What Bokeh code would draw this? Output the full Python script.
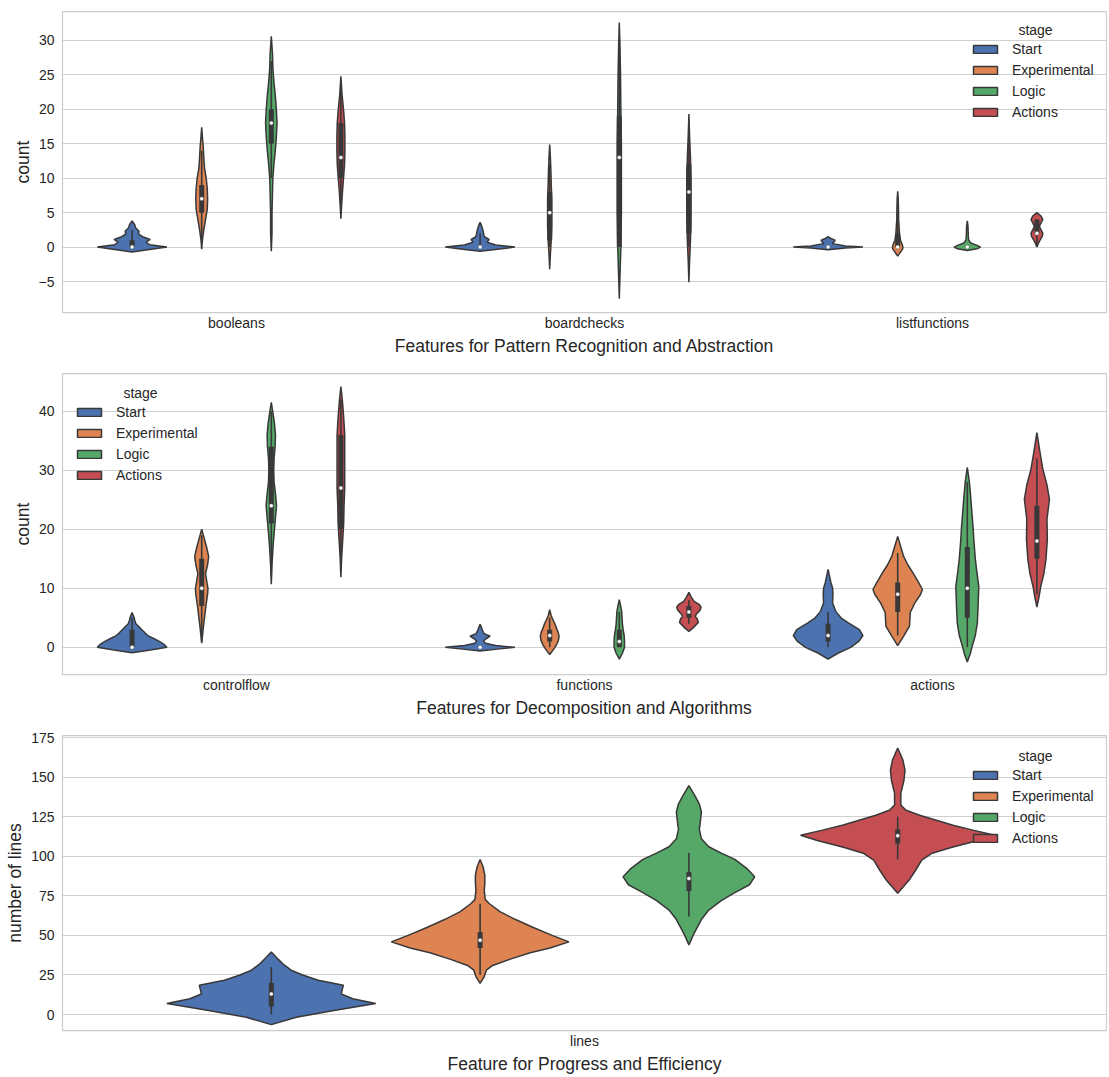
from bokeh.plotting import figure
from bokeh.models import Range1d, FixedTicker, Legend, LegendItem, Label
from bokeh.layouts import column
from bokeh.embed import file_html
from bokeh.resources import INLINE

# ---------------- data ----------------
stages = ["Start", "Experimental", "Logic", "Actions"]
stage_colors = ["#4C72B0", "#DD8452", "#55A868", "#C44E52"]

# Each violin: y levels, relative half-width (1 = widest violin), box stats (whisker lo, q1, median, q3, whisker hi)
# --- Panel 1: Pattern Recognition and Abstraction ---
pattern_features = ["booleans", "boardchecks", "listfunctions"]

booleans_levels = {
    "Start": [-0.7, -0.35, 0, 0.35, 0.7, 1.1, 1.5, 1.9, 2.3, 2.8, 3.3, 3.8],
    "Experimental": [-0.3, 1, 2.5, 4, 5.5, 7, 8.5, 10, 11.5, 13, 14.5, 16, 17.4],
    "Logic": [-0.6, 2, 5, 8, 10, 12, 14, 16, 18, 20, 22, 24, 26, 28, 30.6],
    "Actions": [4.1, 6, 8, 10, 12, 14, 16, 18, 20, 22, 24.8],
}
booleans_widths = {
    "Start": [0, 0.5, 1.0, 0.5, 0.4, 0.52, 0.3, 0.18, 0.2, 0.1, 0.07, 0],
    "Experimental": [0, 0.02, 0.06, 0.11, 0.16, 0.17, 0.16, 0.13, 0.08, 0.06, 0.045, 0.02, 0],
    "Logic": [0, 0.02, 0.02, 0.035, 0.045, 0.075, 0.115, 0.145, 0.165, 0.145, 0.115, 0.075, 0.045, 0.035, 0],
    "Actions": [0, 0.02, 0.045, 0.075, 0.105, 0.115, 0.115, 0.105, 0.075, 0.035, 0],
}
booleans_box = {
    "Start": [0, 0, 0, 1, 2.5],
    "Experimental": [1, 5, 7, 9, 14],
    "Logic": [10, 15, 18, 20, 27],
    "Actions": [5, 10, 13, 18, 24],
}

boardchecks_levels = {
    "Start": [-0.6, -0.3, 0, 0.3, 0.7, 1.1, 1.5, 2.0, 2.5, 3.0, 3.6],
    "Experimental": [-3.2, -1, 1, 3, 5, 7, 9, 11, 13, 14.9],
    "Logic": [-7.5, -4, 0, 5, 10, 15, 20, 25, 29, 32.6],
    "Actions": [-5.1, -2, 1, 4, 7, 10, 13, 16, 19.3],
}
boardchecks_widths = {
    "Start": [0, 0.5, 1.0, 0.45, 0.2, 0.26, 0.12, 0.1, 0.08, 0.05, 0],
    "Experimental": [0, 0.02, 0.045, 0.06, 0.06, 0.06, 0.045, 0.035, 0.02, 0],
    "Logic": [0, 0.02, 0.045, 0.06, 0.06, 0.06, 0.045, 0.035, 0.02, 0],
    "Actions": [0, 0.02, 0.045, 0.06, 0.06, 0.06, 0.045, 0.02, 0],
}
boardchecks_box = {
    "Start": [0, 0, 0, 0, 2],
    "Experimental": [0, 1, 5, 8, 12],
    "Logic": [0, 0, 13, 19, 30],
    "Actions": [0, 2, 8, 12, 16],
}

listfunctions_levels = {
    "Start": [-0.4, -0.15, 0, 0.15, 0.5, 0.8, 1.0, 1.2, 1.5],
    "Experimental": [-1.3, -0.8, -0.3, 0, 0.5, 1, 2, 3, 4, 5, 6, 7, 8.1],
    "Logic": [-0.5, -0.25, 0, 0.25, 0.6, 1.0, 1.5, 2.2, 3.0, 3.8],
    "Actions": [0, 0.5, 1.0, 1.5, 2.0, 2.5, 3.0, 3.5, 4.0, 4.5, 5.0],
}
listfunctions_widths = {
    "Start": [0, 0.5, 1.0, 0.5, 0.12, 0.18, 0.2, 0.1, 0],
    "Experimental": [0, 0.07, 0.14, 0.15, 0.12, 0.08, 0.05, 0.04, 0.025, 0.025, 0.02, 0.015, 0],
    "Logic": [0, 0.28, 0.38, 0.28, 0.1, 0.04, 0.03, 0.025, 0.02, 0],
    "Actions": [0, 0.04, 0.09, 0.15, 0.17, 0.12, 0.07, 0.12, 0.17, 0.12, 0],
}
listfunctions_box = {
    "Start": [0, 0, 0, 0, 0],
    "Experimental": [0, 0, 0, 2, 5],
    "Logic": [0, 0, 0, 0, 0],
    "Actions": [0, 2, 2, 4, 4],
}

# --- Panel 2: Decomposition and Algorithms ---
decomp_features = ["controlflow", "functions", "actions"]

controlflow_levels = {
    "Start": [-0.9, -0.4, 0, 0.5, 1, 1.5, 2, 2.5, 3, 3.5, 4, 4.5, 5, 5.9],
    "Experimental": [0.7, 3, 5, 7, 9, 10, 11, 12.5, 14, 15.4, 17, 18.5, 20],
    "Logic": [10.7, 14, 17, 20, 22, 24, 26, 28, 30, 32, 34, 36, 38, 40, 41.5],
    "Actions": [11.9, 15, 18, 21, 24, 27, 30, 33, 36, 39, 42, 44.2],
}
controlflow_widths = {
    "Start": [0, 0.57, 1.0, 0.92, 0.78, 0.62, 0.45, 0.36, 0.28, 0.2, 0.11, 0.08, 0.06, 0],
    "Experimental": [0, 0.04, 0.08, 0.12, 0.17, 0.18, 0.15, 0.11, 0.17, 0.2, 0.14, 0.07, 0],
    "Logic": [0, 0.02, 0.05, 0.09, 0.12, 0.15, 0.12, 0.08, 0.07, 0.08, 0.11, 0.12, 0.09, 0.04, 0],
    "Actions": [0, 0.02, 0.05, 0.08, 0.09, 0.11, 0.11, 0.11, 0.11, 0.08, 0.04, 0],
}
controlflow_box = {
    "Start": [0, 0, 0, 3, 5],
    "Experimental": [1, 7, 10, 15, 19],
    "Logic": [12, 21, 24, 34, 40],
    "Actions": [13, 20, 27, 36, 42],
}

functions_levels = {
    "Start": [-0.6, -0.3, 0, 0.3, 0.7, 1.1, 1.5, 1.9, 2.3, 2.7, 3.2, 3.9],
    "Experimental": [-1.2, -0.6, 0, 0.6, 1.2, 1.9, 2.6, 3.3, 4.0, 4.7, 5.4, 6.4],
    "Logic": [-2.0, -1.0, 0, 1, 2, 3, 4, 5, 6, 7, 8.1],
    "Actions": [2.7, 3.3, 4.2, 4.8, 5.3, 5.8, 6.3, 6.8, 7.3, 7.8, 8.5, 9.3],
}
functions_widths = {
    "Start": [0, 0.5, 1.0, 0.45, 0.15, 0.1, 0.18, 0.29, 0.12, 0.08, 0.05, 0],
    "Experimental": [0, 0.08, 0.15, 0.21, 0.25, 0.27, 0.24, 0.19, 0.15, 0.09, 0.04, 0],
    "Logic": [0, 0.09, 0.15, 0.15, 0.14, 0.11, 0.09, 0.08, 0.07, 0.04, 0],
    "Actions": [0, 0.12, 0.27, 0.24, 0.18, 0.24, 0.32, 0.35, 0.29, 0.15, 0.07, 0],
}
functions_box = {
    "Start": [0, 0, 0, 0, 0],
    "Experimental": [0, 1, 2, 3, 5],
    "Logic": [0, 0, 1, 3, 6],
    "Actions": [4, 5, 6, 7, 8],
}

actions_levels = {
    "Start": [-2.0, -1.0, 0, 1.0, 2.0, 3.0, 4.2, 5.0, 6.1, 7.5, 9.0, 10.0, 11.0, 13.2],
    "Experimental": [0.3, 1.9, 3.6, 5.9, 7.5, 9.0, 9.8, 11, 12.7, 14, 15.4, 17, 18.8],
    "Logic": [-2.5, -1, 0.2, 2, 4.2, 7, 10.3, 13, 15, 18, 20, 23, 26, 28, 30.5],
    "Actions": [6.8, 8.5, 10.3, 12.5, 14.9, 18.3, 21.7, 25.1, 27.5, 30.2, 33, 36.4],
}
actions_widths = {
    "Start": [0, 0.28, 0.65, 0.88, 1.0, 0.9, 0.57, 0.37, 0.22, 0.13, 0.14, 0.13, 0.08, 0],
    "Experimental": [0, 0.17, 0.34, 0.36, 0.49, 0.66, 0.71, 0.6, 0.43, 0.29, 0.17, 0.09, 0],
    "Logic": [0, 0.09, 0.14, 0.23, 0.29, 0.31, 0.33, 0.27, 0.23, 0.19, 0.17, 0.13, 0.09, 0.06, 0],
    "Actions": [0, 0.06, 0.11, 0.2, 0.26, 0.3, 0.29, 0.36, 0.29, 0.17, 0.09, 0],
}
actions_box = {
    "Start": [0, 1, 2, 4, 6],
    "Experimental": [2, 6, 9, 11, 16],
    "Logic": [0, 5, 10, 17, 28],
    "Actions": [9, 15, 18, 24, 32],
}

# --- Panel 3: Progress and Efficiency ---
progress_features = ["lines"]

lines_levels = {
    "Start": [-6.4, -1.7, 2.5, 7, 10, 13, 16, 18.5, 21.7, 25, 28, 32, 36, 39.5],
    "Experimental": [19.7, 24, 28, 31, 35, 39, 42, 45.9, 50, 55, 60, 65, 70, 72.6, 78, 83, 88, 93, 98],
    "Logic": [44, 50, 55, 60, 66, 72, 77, 82, 87, 92, 98, 102, 106, 111, 117, 122, 128, 133, 138, 144.6],
    "Actions": [76.6, 85, 91, 97.5, 101.9, 105.7, 110, 113.3, 116.5, 119.6, 122.8, 125.9, 129.1,
                132.3, 139.7, 148, 154.4, 160.8, 168.4],
}
lines_widths = {
    "Start": [0, 0.24, 0.6, 1.0, 0.78, 0.67, 0.68, 0.69, 0.45, 0.3, 0.19, 0.11, 0.05, 0],
    "Experimental": [0, 0.04, 0.06, 0.12, 0.29, 0.48, 0.67, 0.85, 0.69, 0.51, 0.34, 0.19, 0.09, 0.05,
                     0.04, 0.045, 0.045, 0.03, 0],
    "Logic": [0, 0.04, 0.08, 0.12, 0.19, 0.31, 0.44, 0.58, 0.63, 0.56, 0.44, 0.31, 0.19, 0.12, 0.1,
              0.11, 0.12, 0.1, 0.06, 0],
    "Actions": [0, 0.11, 0.17, 0.23, 0.33, 0.52, 0.77, 0.93, 0.72, 0.53, 0.37, 0.21, 0.08, 0.03, 0.03,
                0.06, 0.07, 0.05, 0],
}
lines_box = {
    "Start": [0, 5, 13, 20, 30],
    "Experimental": [25, 42, 47, 52, 70],
    "Logic": [62, 78, 86, 90, 102],
    "Actions": [98, 108, 113, 117, 125],
}

panel1_yticks = [-5, 0, 5, 10, 15, 20, 25, 30]
panel2_yticks = [0, 10, 20, 30, 40]
panel3_yticks = [0, 25, 50, 75, 100, 125, 150, 175]

# ---------------- styling ----------------
FONT = "Liberation Sans"
TEXT = "#262626"
GRAY = "#383838"
GRID = "#d0d0d0"
HUE_OFFSETS = [-0.3, -0.1, 0.1, 0.3]
MAX_HALF = 0.1
FIG_W = 1107


def make_fig(features, yr, yticks, xlabel, ylabel, top, frame_h, bottom):
    p = figure(width=FIG_W, height=top + frame_h + bottom, output_backend="svg", toolbar_location=None,
               title=None, x_range=Range1d(-0.5, len(features) - 0.5), y_range=Range1d(*yr),
               min_border_left=62, min_border_right=1, min_border_top=top, min_border_bottom=bottom)
    p.background_fill_color = "white"
    p.border_fill_color = "white"
    p.outline_line_color = "#cccccc"
    p.outline_line_width = 1.25
    p.xgrid.visible = False
    p.ygrid.grid_line_color = GRID
    p.ygrid.grid_line_width = 1.2
    p.ygrid.ticker = FixedTicker(ticks=yticks)
    p.yaxis.ticker = FixedTicker(ticks=yticks)
    p.yaxis.major_label_overrides = {t: ("\u2212" + str(-t) if t < 0 else str(t)) for t in yticks}
    p.xaxis.ticker = FixedTicker(ticks=list(range(len(features))))
    p.xaxis.major_label_overrides = {i: f for i, f in enumerate(features)}
    for ax in (p.xaxis[0], p.yaxis[0]):
        ax.axis_line_color = None
        ax.major_tick_line_color = None
        ax.minor_tick_line_color = None
        ax.major_tick_out = 0
        ax.major_tick_in = 0
        ax.minor_tick_out = 0
        ax.minor_tick_in = 0
        ax.major_label_text_font = FONT
        ax.major_label_text_font_size = "14px"
        ax.major_label_text_color = TEXT
        ax.axis_label_text_font = FONT
        ax.axis_label_text_font_size = "17.5px"
        ax.axis_label_text_font_style = "normal"
        ax.axis_label_text_color = TEXT
    p.xaxis.major_label_standoff = 2
    p.xaxis.axis_label_standoff = 2
    p.yaxis.major_label_standoff = 8
    p.yaxis.axis_label_standoff = 3
    p.xaxis.axis_label = xlabel
    p.yaxis.axis_label = ylabel
    return p


def draw_violin(p, center, ys, ws, color, box):
    half = [w * MAX_HALF for w in ws]
    xs = [center + h for h in half] + [center - h for h in half[::-1]]
    yy = list(ys) + list(ys[::-1])
    r = p.patch(xs, yy, fill_color=color, fill_alpha=1.0, line_color=GRAY, line_width=1.5)
    lo, q1, med, q3, hi = box
    p.segment(x0=[center], y0=[lo], x1=[center], y1=[hi], line_color=GRAY, line_width=1.6)
    if q3 > q1:
        p.segment(x0=[center], y0=[q1], x1=[center], y1=[q3], line_color=GRAY, line_width=5)
    p.scatter([center], [med], size=4, fill_color="white", line_color=GRAY, line_width=0.4)
    return r


def fill_panel(p, features, levels, widths, boxes):
    legend_renderers = []
    for fi, feat in enumerate(features):
        for si, st in enumerate(stages):
            r = draw_violin(p, fi + HUE_OFFSETS[si], levels[feat][st], widths[feat][st],
                            stage_colors[si], boxes[feat][st])
            if fi == 0:
                legend_renderers.append(r)
    return legend_renderers


def add_legend(p, renderers, loc, title_xy):
    items = [LegendItem(label=s, renderers=[r]) for s, r in zip(stages, renderers)]
    lg = Legend(items=items, location=loc, padding=0, spacing=5, glyph_width=30, glyph_height=10,
                label_height=16, label_standoff=12, label_text_font=FONT, label_text_font_size="14px",
                label_text_color=TEXT, background_fill_alpha=0, border_line_color=None, margin=0)
    p.add_layout(lg)
    # legend title, placed relative to the frame (fractions of the axis ranges)
    xr, yr = p.x_range, p.y_range
    fx, fy = title_xy
    p.add_layout(Label(x=xr.start + fx * (xr.end - xr.start), y=yr.end - fy * (yr.end - yr.start),
                       text="stage", text_font=FONT, text_font_size="14px", text_color=TEXT,
                       text_align="center", text_baseline="middle"))


# ---------------- panel 1 ----------------
p1 = make_fig(pattern_features, (-9.5, 34.2), panel1_yticks,
              "Features for Pattern Recognition and Abstraction", "count", 11, 301, 51)
r1 = fill_panel(p1, pattern_features,
                {"booleans": booleans_levels, "boardchecks": boardchecks_levels, "listfunctions": listfunctions_levels},
                {"booleans": booleans_widths, "boardchecks": boardchecks_widths, "listfunctions": listfunctions_widths},
                {"booleans": booleans_box, "boardchecks": boardchecks_box, "listfunctions": listfunctions_box})
add_legend(p1, r1, (908, 192), (973 / 1044, 18 / 301))

# ---------------- panel 2 ----------------
p2 = make_fig(decomp_features, (-4.6, 46.4), panel2_yticks,
              "Features for Decomposition and Algorithms", "count", 10, 301, 49)
r2 = fill_panel(p2, decomp_features,
                {"controlflow": controlflow_levels, "functions": functions_levels, "actions": actions_levels},
                {"controlflow": controlflow_widths, "functions": functions_widths, "actions": actions_widths},
                {"controlflow": controlflow_box, "functions": functions_box, "actions": actions_box})
add_legend(p2, r2, (12, 191), (78 / 1044, 19 / 301))

# ---------------- panel 3 ----------------
p3 = make_fig(progress_features, (-10.1, 176.3), panel3_yticks,
              "Feature for Progress and Efficiency", "number of lines", 12, 295, 46)
r3 = fill_panel(p3, progress_features, {"lines": lines_levels}, {"lines": lines_widths}, {"lines": lines_box})
add_legend(p3, r3, (908, 184), (973 / 1044, 20 / 295))

layout = column(p1, p2, p3, spacing=0)
open("out.html", "w").write(file_html(layout, INLINE))
